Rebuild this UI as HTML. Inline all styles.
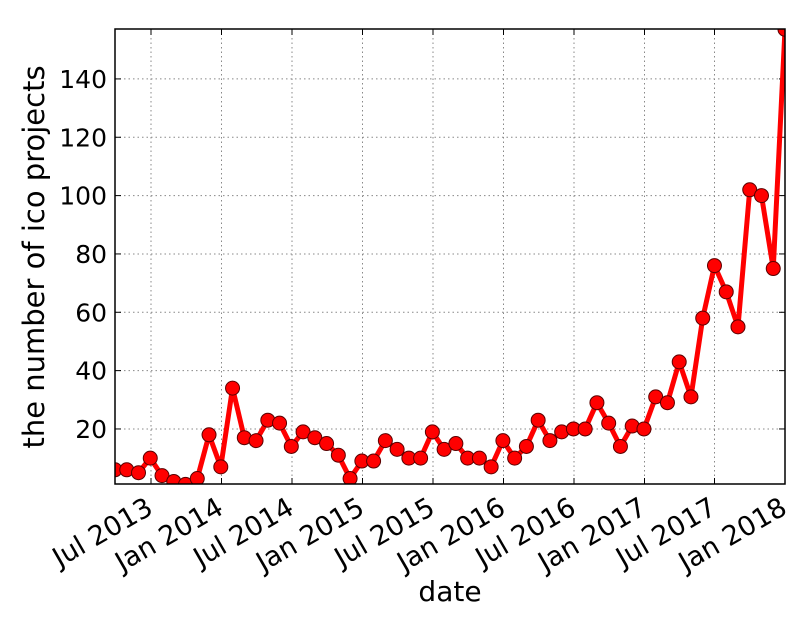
<!DOCTYPE html>
<html><head><style>
html,body{margin:0;padding:0;background:#fff;}
svg text{font-family:"DejaVu Sans","Liberation Sans",sans-serif;fill:#000;}
</style></head><body>
<svg id="s" width="810" height="635" xmlns="http://www.w3.org/2000/svg"></svg>
<script>
const s=document.getElementById('s');
const L=115,R=785,T=29,B=484;
const vals=[6,6,5,10,4,2,1,3,18,7,34,17,16,23,22,14,19,17,15,11,3,9,9,16,13,10,10,19,13,15,10,10,7,16,10,14,23,16,19,20,20,29,22,14,21,20,31,29,43,31,58,76,67,55,102,100,75,157];
const X=i=>115+i*(670/57);
const Y=v=>487.3-v*2.917;
let h='';
const xt=[151,221.5,292,362.5,433,503.5,574,644.5,714.5,785];
const xl=['Jul 2013','Jan 2014','Jul 2014','Jan 2015','Jul 2015','Jan 2016','Jul 2016','Jan 2017','Jul 2017','Jan 2018'];
h+='<defs><clipPath id="c"><rect x="'+L+'" y="'+T+'" width="'+(R-L)+'" height="'+(B-T)+'"/></clipPath></defs>';
xt.forEach(x=>{h+=`<line x1="${x}" y1="${T}" x2="${x}" y2="${B}" stroke="#888" stroke-dasharray="1.5,3" stroke-width="1"/>`;
h+=`<line x1="${x}" y1="${B}" x2="${x}" y2="${B-6}" stroke="#000"/><line x1="${x}" y1="${T}" x2="${x}" y2="${T+6}" stroke="#000"/>`;});
for(let v=20;v<=140;v+=20){const y=Y(v);
h+=`<line x1="${L}" y1="${y}" x2="${R}" y2="${y}" stroke="#888" stroke-dasharray="1.5,3" stroke-width="1"/>`;
h+=`<line x1="${L}" y1="${y}" x2="${L+6}" y2="${y}" stroke="#000"/><line x1="${R}" y1="${y}" x2="${R-6}" y2="${y}" stroke="#000"/>`;
h+=`<text x="${L-8}" y="${y+9}" font-size="25" text-anchor="end">${v}</text>`;}
h+='<g clip-path="url(#c)">';
h+='<polyline fill="none" stroke="#ff0000" stroke-width="5" stroke-linejoin="round" points="'+vals.map((v,i)=>X(i)+','+Y(v)).join(' ')+'"/>';
vals.forEach((v,i)=>{h+=`<circle cx="${X(i)}" cy="${Y(v)}" r="7" fill="#ff0000" stroke="#5a0000" stroke-width="1"/>`;});
h+='</g>';
h+=`<rect x="${L}" y="${T}" width="${R-L}" height="${B-T}" fill="none" stroke="#000" stroke-width="1.5"/>`;
xt.forEach((x,i)=>{h+=`<text transform="translate(${x-6},${B+12}) rotate(-30)" font-size="27" text-anchor="end" dominant-baseline="hanging">${xl[i]}</text>`;});
h+='<text x="450" y="601" font-size="28" text-anchor="middle">date</text>';
h+='<text transform="translate(44,257) rotate(-90)" font-size="29" text-anchor="middle">the number of ico projects</text>';
s.innerHTML=h;
</script>
</body></html>
